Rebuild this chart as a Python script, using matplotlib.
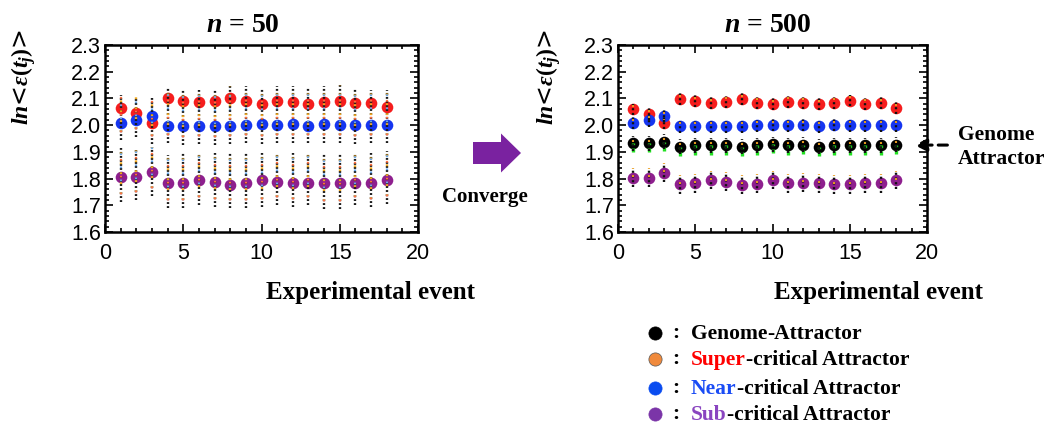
import numpy as np
import matplotlib.pyplot as plt
from matplotlib.ticker import MultipleLocator, AutoMinorLocator
from matplotlib.patches import FancyArrow
from matplotlib.lines import Line2D

plt.rcParams['mathtext.fontset'] = 'custom'
plt.rcParams['mathtext.it'] = 'Liberation Serif:bold:italic'
plt.rcParams['mathtext.rm'] = 'Liberation Serif:bold'
plt.rcParams['mathtext.bf'] = 'Liberation Serif:bold'

# experimental events
events = np.arange(1, 19)

# n = 50 : averages of each attractor
super_50 = [2.063, 2.044, 2.007, 2.100, 2.092, 2.085, 2.092, 2.100, 2.089, 2.080,
            2.089, 2.085, 2.078, 2.085, 2.092, 2.082, 2.082, 2.067]
near_50 = [2.009, 2.020, 2.035, 1.998, 1.998, 1.998, 1.998, 1.998, 2.000, 2.003,
           2.000, 2.003, 1.998, 2.003, 2.000, 2.000, 2.000, 2.000]
sub_50 = [1.807, 1.807, 1.823, 1.782, 1.785, 1.793, 1.788, 1.777, 1.785, 1.793,
          1.788, 1.785, 1.785, 1.782, 1.782, 1.785, 1.785, 1.793]

# n = 50 : range of the scattered samples (upper and lower clusters)
upper_hi_50 = [2.113, 2.105, 2.100, 2.143, 2.137, 2.132, 2.135, 2.147, 2.145, 2.137,
               2.145, 2.145, 2.140, 2.147, 2.150, 2.140, 2.132, 2.132]
upper_lo_50 = [1.944, 1.955, 1.930, 1.933, 1.925, 1.930, 1.925, 1.930, 1.935, 1.930,
               1.935, 1.935, 1.935, 1.935, 1.935, 1.930, 1.935, 1.935]
lower_hi_50 = [1.914, 1.907, 1.920, 1.888, 1.895, 1.895, 1.895, 1.895, 1.895, 1.895,
               1.895, 1.895, 1.895, 1.895, 1.895, 1.895, 1.895, 1.905]
lower_lo_50 = [1.712, 1.720, 1.735, 1.690, 1.690, 1.700, 1.695, 1.690, 1.690, 1.695,
               1.700, 1.695, 1.700, 1.685, 1.685, 1.700, 1.695, 1.705]

# n = 500 : averages of each attractor
super_500 = [2.059, 2.041, 2.007, 2.097, 2.089, 2.082, 2.087, 2.097, 2.084, 2.078,
             2.087, 2.084, 2.078, 2.084, 2.092, 2.080, 2.082, 2.063]
near_500 = [2.009, 2.019, 2.035, 1.997, 1.997, 1.997, 1.997, 1.997, 2.000, 2.002,
            2.000, 2.002, 1.997, 2.002, 2.000, 2.000, 2.000, 2.000]
genome_500 = [1.932, 1.932, 1.937, 1.920, 1.924, 1.924, 1.924, 1.920, 1.924, 1.928,
              1.924, 1.926, 1.920, 1.924, 1.924, 1.924, 1.924, 1.926]
sub_500 = [1.803, 1.803, 1.822, 1.779, 1.782, 1.795, 1.789, 1.777, 1.781, 1.795,
           1.782, 1.785, 1.782, 1.779, 1.779, 1.782, 1.782, 1.795]
# half range of the samples around each n = 500 average
spread_500 = [0.022, 0.025, 0.028, 0.035]

legend_words = ['Genome', 'Super', 'Near', 'Sub']
legend_rest = ['-Attractor', '-critical Attractor', '-critical Attractor', '-critical Attractor']
legend_marker_colors = ['black', '#f08a3c', '#0a4cf0', '#7b35a8']
legend_word_colors = ['black', '#ff0000', '#1a4cf5', '#8a45c0']

red = '#f51d1d'
blue = '#1535f0'
purple = '#8e1f8e'
green = '#22e022'

W, H = 1048, 423
fig = plt.figure(figsize=(W / 100, H / 100), dpi=100)
ax1 = fig.add_axes([105 / W, 1 - 232 / H, 313 / W, 187 / H])
ax2 = fig.add_axes([618 / W, 1 - 232 / H, 309 / W, 187 / H])

ms = 70
# n = 50 panel
ax1.scatter(events, super_50, s=ms, color=red, zorder=2, lw=0)
ax1.scatter(events, near_50, s=ms, color=blue, zorder=2, lw=0)
ax1.scatter(events, sub_50, s=ms, color=purple, zorder=2, lw=0)
for lo, hi in [(upper_lo_50, upper_hi_50), (lower_lo_50, lower_hi_50)]:
    ax1.vlines(events, lo, hi, colors='#1a1a1a', linestyles=(0, (0.8, 0.9)), lw=1.7, zorder=3)
    ax1.vlines(events, lo, hi, colors='#f0a820', linestyles=(0.8, (0.8, 3.4)), lw=1.7, zorder=3)
    ax1.vlines(events, lo, hi, colors='#6aa6e6', linestyles=(2.5, (0.8, 5.1)), lw=1.6, zorder=3)
    ax1.vlines(events, lo, hi, colors='#ff7040', linestyles=(4.2, (0.8, 6.8)), lw=1.6, zorder=3)

# n = 500 panel
ax2.scatter(events, super_500, s=ms, color=red, zorder=2, lw=0)
ax2.scatter(events, near_500, s=ms, color=blue, zorder=2, lw=0)
ax2.scatter(events, genome_500, s=ms, color='black', zorder=2, lw=0)
ax2.scatter(events, sub_500, s=ms, color=purple, zorder=2, lw=0)
g = np.array(genome_500)
ax2.vlines(events, g - spread_500[2] - 0.006, g, colors=green, linestyles=(0, (1.2, 1.0)), lw=2.4, zorder=3)
for vals, sp in zip([super_500, near_500, genome_500, sub_500], spread_500):
    v = np.array(vals)
    ax2.vlines(events, v - sp, v + sp, colors='#111111', linestyles=(0, (0.9, 1.1)), lw=1.7, zorder=3)
    ax2.vlines(events, v - sp * 0.6, v + sp, colors='#f0a020', linestyles=(1.0, (0.9, 3)), lw=1.5, zorder=3)

for ax in (ax1, ax2):
    ax.set_xlim(0, 20)
    ax.set_ylim(1.6, 2.3)
    ax.xaxis.set_major_locator(MultipleLocator(5))
    ax.yaxis.set_major_locator(MultipleLocator(0.1))
    ax.xaxis.set_minor_locator(AutoMinorLocator(5))
    ax.yaxis.set_minor_locator(AutoMinorLocator(5))
    ax.yaxis.set_major_formatter(plt.FormatStrFormatter('%.1f'))
    ax.tick_params(which='both', direction='in', top=True, right=True, width=1.2)
    ax.tick_params(which='major', length=6, labelsize=15.5)
    ax.tick_params(axis='y', which='major', pad=3)
    ax.tick_params(axis='x', which='major', pad=8)
    ax.tick_params(which='minor', length=3)
    for lab in ax.get_xticklabels() + ax.get_yticklabels():
        lab.set_fontfamily('Liberation Sans')
    for sp in ax.spines.values():
        sp.set_linewidth(1.8)
    ax.set_ylabel(r'$ln$<$\varepsilon(t_{j})$>', fontsize=17, rotation=90)

ax1.yaxis.set_label_coords(-0.214, 0.83)
ax2.yaxis.set_label_coords(-0.178, 0.83)

ax1.text(0.44, 1.035, r'$n$ = 50', transform=ax1.transAxes, ha='center', va='bottom',
         fontsize=20, family='Liberation Serif', weight='bold')
ax2.text(0.485, 1.035, r'$n$ = 500', transform=ax2.transAxes, ha='center', va='bottom',
         fontsize=20, family='Liberation Serif', weight='bold')

serif = dict(family='Liberation Serif', weight='bold')
fig.text(370 / W, 1 - 293 / H, 'Experimental event', ha='center', va='center', fontsize=18, **serif)
fig.text(879 / W, 1 - 293 / H, 'Experimental event', ha='center', va='center', fontsize=18, **serif)

# converge arrow
arrow = FancyArrow(473 / W, 1 - 153 / H, 48 / W, 0, width=22 / H, head_width=39 / H,
                   head_length=20 / W, length_includes_head=True, transform=fig.transFigure,
                   color='#7a22a0', lw=0)
fig.patches.append(arrow)
fig.text(485 / W, 1 - 197 / H, 'Converge', ha='center', va='center', fontsize=15, **serif)

# genome attractor pointer
ax2.annotate('', xy=(19.0, np.mean(genome_500)), xytext=(1.075, (np.mean(genome_500) - 1.6) / 0.7),
             xycoords='data', textcoords='axes fraction',
             arrowprops=dict(arrowstyle='-|>', linestyle=(0, (3, 2)), lw=2.2, color='black',
                             mutation_scale=18))
fig.text(958 / W, 1 - 147 / H, 'Genome\nAttractor', ha='left', va='center', fontsize=15.5,
         linespacing=1.2, **serif)

# legend
row_y = [333, 359, 388, 414]
fig.canvas.draw()
renderer = fig.canvas.get_renderer()
for i in range(4):
    y = 1 - row_y[i] / H
    fig.add_artist(Line2D([655 / W], [y], marker='o', markersize=9.5, color=legend_marker_colors[i],
                          markeredgecolor='#555555' if i == 1 else legend_marker_colors[i],
                          markeredgewidth=0.5, transform=fig.transFigure))
    fig.text(676 / W, y, ':', ha='center', va='center', fontsize=15.5, **serif)
    t1 = fig.text(691 / W, y - 6 / H, legend_words[i], color=legend_word_colors[i], ha='left',
                  va='baseline', fontsize=15.5, **serif)
    bb = t1.get_window_extent(renderer=renderer)
    fig.text(bb.x1 / W, y - 6 / H, legend_rest[i], ha='left',
             va='baseline', fontsize=15.5, **serif)

fig.savefig('out.png', dpi=100)
